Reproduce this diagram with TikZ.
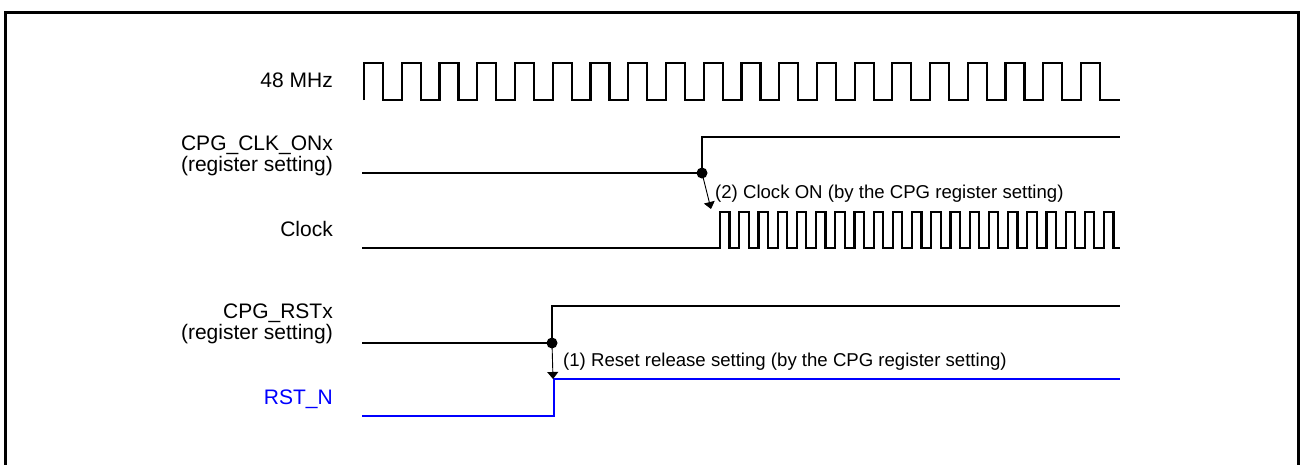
\documentclass[tikz,border=0pt]{standalone}
\usepackage{fontspec}
\setmainfont{Liberation Sans}
\usetikzlibrary{arrows.meta}
\definecolor{sigblue}{RGB}{0,0,255}
\begin{document}
\begin{tikzpicture}[x=1pt,y=-1pt,
  sig/.style={line width=2.2pt, line join=miter},
  lbl/.style={anchor=base east, inner sep=0pt, font=\fontsize{21}{21}\selectfont},
  ann/.style={anchor=base west, inner sep=0pt, font=\fontsize{18.6}{18.6}\selectfont},
  dotnode/.style={circle, fill=black, inner sep=0pt, minimum size=11pt},
  arr/.style={line width=0.9pt, -{Triangle[length=7pt,width=11pt]}}]
\useasboundingbox (0,0) rectangle (1300,464);
% frame
\draw[line width=3pt] (5,480) -- (5,12) -- (1298,12) -- (1298,480);
% labels
\node[lbl] (l48) at (333,87) {48 MHz};
\node[lbl] (lclkon) at (333,150) {CPG\_CLK\_ONx};
\node[lbl] (lclkonb) at (333,171) {(register setting)};
\node[lbl] (lclock) at (333,236) {Clock};
\node[lbl] (lrst) at (333,318) {CPG\_RSTx};
\node[lbl] (lrstb) at (333,339) {(register setting)};
\node[lbl, text=sigblue] (lrstn) at (333,404) {RST\_N};
% 48 MHz
\draw[sig] (364,100)
  \foreach \k in {0,...,19} { -- ({364+37.74*\k},100) -- ({364+37.74*\k},62.7) -- ({383+37.74*\k},62.7) -- ({383+37.74*\k},100) }
  -- (1120,100);
% CPG_CLK_ONx
\draw[sig] (362,173) -- (702,173) -- (702,137) -- (1120,137);
% Clock
\draw[sig] (362,248)
  \foreach \k in {0,...,20} { -- ({720+19.2*\k},248) -- ({720+19.2*\k},212) -- ({729.5+19.2*\k},212) -- ({729.5+19.2*\k},248) }
  -- (1120,248);
% CPG_RSTx
\draw[sig] (362,343) -- (552,343) -- (552,306) -- (1120,306);
% RST_N
\draw[sig, sigblue] (362,416) -- (554,416) -- (554,379) -- (1120,379);
% dots and arrows
\node[dotnode] (d2) at (702,173) {};
\coordinate (t2) at (711,209);
\draw[arr] (d2.center) -- (t2);
\node[ann] (a2) at (715,198) {(2) Clock ON (by the CPG register setting)};
\node[dotnode] (d1) at (552,343) {};
\coordinate (t1) at (553,379);
\draw[arr] (d1.center) -- (t1);
\node[ann] (a1) at (563,366) {(1) Reset release setting (by the CPG register setting)};
\end{tikzpicture}
\end{document}
